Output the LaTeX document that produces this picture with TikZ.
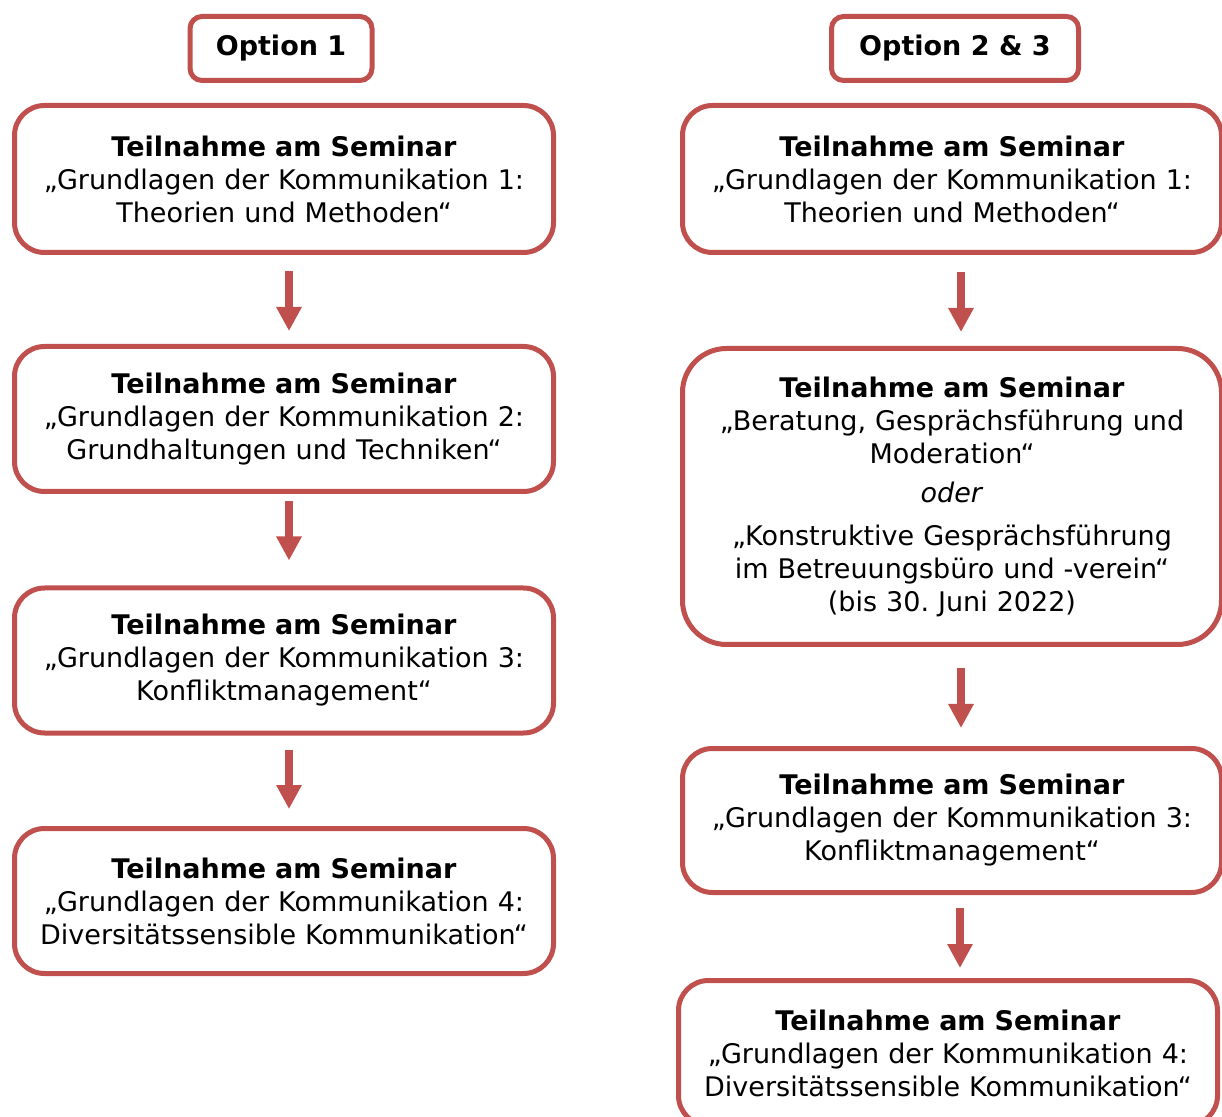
\documentclass[tikz,border=0pt]{standalone}
\usepackage{fontspec}
\setmainfont{DejaVu Sans}
\usetikzlibrary{arrows.meta}
\definecolor{seminarred}{RGB}{192,80,77}
\frenchspacing
\begin{document}
\begin{tikzpicture}[x=0.5pt,y=-0.5pt,font=\fontsize{13.5}{16.5}\selectfont,line join=round,
	kasten/.style={draw=seminarred,line width=2.5pt,rounded corners=15pt,align=center,inner sep=0pt,
		text width=262pt,minimum width=269.5pt,minimum height=72.5pt},
	kopf/.style={draw=seminarred,line width=2.5pt,rounded corners=6pt,font=\fontsize{13.5}{16.5}\selectfont\bfseries,
		inner sep=0pt,minimum height=32pt},
	pfeil/.style={seminarred,line width=3.7pt,-{Triangle[length=12pt,width=12pt]}}]
	\useasboundingbox (0,0) rectangle (1222,1117);
	% Option 1
	\path (281,48.5)node[kopf,minimum width=91pt](o1){Option 1}
	(284,179)node[kasten,minimum height=73.5pt](l1){\textbf{Teilnahme am Seminar}\\„Grundlagen der Kommunikation 1:\\Theorien und Methoden“}
	(284,419)node[kasten](l2){\textbf{Teilnahme am Seminar}\\„Grundlagen der Kommunikation 2:\\Grundhaltungen und Techniken“}
	(284,660.5)node[kasten](l3){\textbf{Teilnahme am Seminar}\\„Grundlagen der Kommunikation 3:\\Konfliktmanagement“}
	(284,901)node[kasten](l4){\textbf{Teilnahme am Seminar}\\„Grundlagen der Kommunikation 4:\\Diversitätssensible Kommunikation“};
	% Option 2 & 3
	\path (955,48.5)node[kopf,minimum width=123.5pt](o2){Option 2 \& 3}
	(952,179)node[kasten,minimum height=73.5pt](r1){\textbf{Teilnahme am Seminar}\\„Grundlagen der Kommunikation 1:\\Theorien und Methoden“}
	(952,496.5)node[kasten,minimum height=148pt,rounded corners=22pt](r2){\textbf{Teilnahme am Seminar}\\„Beratung, Gesprächsführung und\\Moderation“\\[3pt]\textit{oder}\\[5pt]„Konstruktive Gesprächsführung\\im Betreuungsbüro und -verein“\\(bis 30. Juni 2022)}
	(952,820.5)node[kasten,minimum height=72pt](r3){\textbf{Teilnahme am Seminar}\\„Grundlagen der Kommunikation 3:\\Konfliktmanagement“}
	(948,1053)node[kasten](r4){\textbf{Teilnahme am Seminar}\\„Grundlagen der Kommunikation 4:\\Diversitätssensible Kommunikation“};
	\draw[pfeil,shorten <=8pt,shorten >=6.5pt]([xshift=2.5pt]l1.south)--([xshift=2.5pt]l2.north);
	\draw[pfeil,shorten <=3.5pt,shorten >=12.5pt]([xshift=2.5pt]l2.south)--([xshift=2.5pt]l3.north);
	\draw[pfeil,shorten <=7pt,shorten >=8.5pt]([xshift=2.5pt]l3.south)--([xshift=2.5pt]l4.north);
	\draw[pfeil,shorten <=8.5pt,shorten >=7pt]([xshift=4.5pt]r1.south)--([xshift=4.5pt]r2.north);
	\draw[pfeil,shorten <=10.5pt,shorten >=9pt]([xshift=4.5pt]r2.south)--([xshift=4.5pt]r3.north);
	\draw[pfeil,shorten <=6.5pt,shorten >=5pt]([xshift=4pt]r3.south)--([xshift=6pt]r4.north);
\end{tikzpicture}
\end{document}
